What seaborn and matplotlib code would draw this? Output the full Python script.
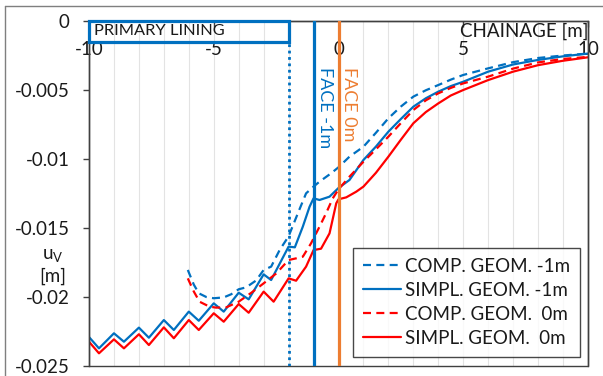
import numpy as np
import pandas as pd
import matplotlib
matplotlib.use("Agg")
import matplotlib.pyplot as plt
import matplotlib.transforms as mtransforms
import seaborn as sns
from matplotlib.patches import Rectangle
from matplotlib.lines import Line2D

# ---------------- data ----------------
x_comp_m1 = [-6.04, -5.8, -5.6, -5.3, -5.0, -4.6, -4.3, -4.0, -3.7, -3.3, -3.0, -2.7, -2.36, -2.0,
             -1.63, -1.3, -1.0, -0.76, -0.3, 0.0, 0.44, 1.0, 1.5, 2.0, 2.5, 3.0, 3.5, 4.0, 4.5,
             5.0, 6.0, 7.0, 8.0, 9.0, 10.0]
y_comp_m1 = [-0.01804, -0.0191, -0.01973, -0.02, -0.02009, -0.02003, -0.0198, -0.01944, -0.0193,
             -0.0188, -0.01804, -0.0178, -0.0166, -0.0156, -0.01394, -0.01249, -0.0120, -0.01164,
             -0.01104, -0.0106, -0.00983, -0.00911, -0.0081, -0.00705, -0.0062, -0.00548,
             -0.00502, -0.00464, -0.00425, -0.00391, -0.00343, -0.00298, -0.00268, -0.0025,
             -0.00236]

x_simpl_m1 = [-10, -9.6, -9.0, -8.6, -8.0, -7.6, -7.0, -6.6, -6.0, -5.6, -5.0, -4.6, -4.0, -3.6,
              -3.0, -2.7, -2.0, -1.75, -1.43, -1.16, -1.0, -0.76, -0.36, 0.0, 0.44, 1.0, 1.5,
              2.0, 2.5, 3.0, 3.5, 4.0, 4.5, 5.0, 6.0, 7.0, 8.0, 9.0, 10.0]
y_simpl_m1 = [-0.0229, -0.02372, -0.02263, -0.02324, -0.02222, -0.02295, -0.02167, -0.02239,
              -0.02106, -0.02172, -0.02046, -0.02106, -0.01969, -0.02017, -0.01836, -0.01877,
              -0.01635, -0.0164, -0.0149, -0.01346, -0.01285, -0.01297, -0.01273, -0.0121,
              -0.01152, -0.01007, -0.0091, -0.00802, -0.0071, -0.00621, -0.0056, -0.00512,
              -0.00472, -0.0044, -0.00367, -0.00315, -0.00282, -0.00256, -0.00236]

x_comp_0 = [-6.04, -5.8, -5.57, -5.17, -4.9, -4.5, -4.0, -3.5, -3.0, -2.5, -2.0, -1.7, -1.43,
            -1.1, -0.76, -0.5, -0.23, 0.0, 0.44, 1.0, 1.5, 2.0, 2.5, 3.0, 3.5, 4.0, 4.5, 5.0,
            6.0, 7.0, 8.0, 9.0, 10.0]
y_comp_0 = [-0.01865, -0.0196, -0.02034, -0.0207, -0.02077, -0.02075, -0.02034, -0.0197,
            -0.01901, -0.0183, -0.01732, -0.0172, -0.01708, -0.01611, -0.0149, -0.01394,
            -0.01285, -0.0122, -0.01128, -0.0102, -0.0093, -0.00838, -0.0074, -0.00645,
            -0.00575, -0.00524, -0.00485, -0.00452, -0.00403, -0.00345, -0.003, -0.00275,
            -0.0026]

x_simpl_0 = [-10, -9.6, -9.0, -8.6, -8.0, -7.6, -7.0, -6.6, -6.0, -5.6, -5.0, -4.6, -4.0, -3.6,
             -3.0, -2.6, -2.0, -1.7, -1.3, -1.0, -0.7, -0.36, -0.09, 0.0, 0.31, 0.71, 1.0, 1.5,
             2.0, 2.5, 3.0, 3.5, 4.0, 4.5, 5.0, 6.0, 7.0, 8.0, 9.0, 10.0]
y_simpl_0 = [-0.02324, -0.02408, -0.02307, -0.02372, -0.0227, -0.02348, -0.0222, -0.02299,
             -0.02167, -0.02239, -0.02118, -0.02179, -0.02051, -0.02114, -0.01961, -0.02034,
             -0.01865, -0.01882, -0.0178, -0.0166, -0.0165, -0.01539, -0.01321, -0.01292,
             -0.01278, -0.01237, -0.012, -0.0110, -0.00983, -0.0086, -0.00741, -0.0066,
             -0.00597, -0.0054, -0.005, -0.00428, -0.00367, -0.0032, -0.00288, -0.00263]

series_labels = ["COMP. GEOM. -1m", "SIMPL. GEOM. -1m", "COMP. GEOM.  0m", "SIMPL. GEOM.  0m"]

x_ticks = [-10, -5, 0, 5, 10]
x_tick_labels = ["-10", "-5", "0", "5", "10"]
y_ticks = [0, -0.005, -0.01, -0.015, -0.02, -0.025]
y_tick_labels = ["0", "-0.005", "-0.01", "-0.015", "-0.02", "-0.025"]

face_m1 = -1.0
face_0 = 0.0
lining_start = -10.0
lining_end = -2.0
lining_depth = -0.0015

# ---------------- style ----------------
BLUE = "#0070C0"
RED = "#FF0000"
ORANGE = "#ED7D31"
TXT = "#1a1a1a"
FS = 13.5

sns.set_theme(style="white")
plt.rcParams['font.family'] = ['Lato', 'DejaVu Sans']
plt.rcParams['mathtext.fontset'] = 'custom'
plt.rcParams['mathtext.rm'] = 'Lato'
plt.rcParams['mathtext.it'] = 'Lato'

fig = plt.figure(figsize=(6.03, 3.76), dpi=100)
fig.patch.set_facecolor("white")
ax = fig.add_axes([89 / 603, 10 / 376, 499 / 603, 345 / 376])

dash = (0, (3.6, 2.4))
specs = [
    (x_comp_m1, y_comp_m1, BLUE, dash),
    (x_simpl_m1, y_simpl_m1, BLUE, "-"),
    (x_comp_0, y_comp_0, RED, dash),
    (x_simpl_0, y_simpl_0, RED, "-"),
]
handles = []
for (xs, ys, col, ls), lab in zip(specs, series_labels):
    df = pd.DataFrame({"x": xs, "y": ys})
    sns.lineplot(data=df, x="x", y="y", ax=ax, color=col, linestyle=ls, linewidth=1.6,
                 sort=False, estimator=None, label=lab, legend=False)
    handles.append(ax.lines[-1])

# face lines and primary lining
ax.axvline(face_m1, color=BLUE, lw=2.3, zorder=4)
ax.axvline(face_0, color=ORANGE, lw=2.3, zorder=4)
ax.axvline(lining_end, color=BLUE, lw=2.0, linestyle=(0, (1, 1.3)), zorder=4)
ax.add_patch(Rectangle((lining_start, lining_depth), lining_end - lining_start, -lining_depth,
                       fill=False, ec=BLUE, lw=2.3, zorder=5, clip_on=False))
ax.text(lining_start + 0.2, lining_depth / 2, "PRIMARY LINING", fontsize=11.8, color=TXT,
        va="center", ha="left", zorder=6)
ax.text(face_m1 + 0.12, -0.0033, "FACE -1m", rotation=270, color=BLUE, fontsize=13,
        va="top", ha="left")
ax.text(face_0 + 0.12, -0.0033, "FACE 0m", rotation=270, color=ORANGE, fontsize=13,
        va="top", ha="left")
ax.text(1.0, -0.00078, "CHAINAGE [m]",
        transform=mtransforms.blended_transform_factory(ax.transAxes, ax.transData),
        ha="right", va="center", fontsize=FS, color=TXT)

# axes
ax.set_xlim(-10, 10)
ax.set_ylim(-0.025, 0)
ax.set_xticks(x_ticks)
ax.set_xticklabels(x_tick_labels)
ax.set_xticks(np.arange(-10, 11, 1), minor=True)
ax.set_yticks(y_ticks)
ax.set_yticklabels(y_tick_labels)
ax.grid(False)
ax.grid(axis="x", which="both", color="#e3e3e3", lw=0.8)
ax.set_axisbelow(True)
ax.set_xlabel("")
ax.set_ylabel("")
ax.text(-0.072, 0.29, "u$_\\mathrm{V}$\n[m]", transform=ax.transAxes, fontsize=FS,
        color=TXT, ha="center", va="center", multialignment="center", linespacing=1.3)

ax.spines["bottom"].set_position(("data", 0))
ax.spines["top"].set_visible(False)
for s in ["bottom", "left", "right"]:
    ax.spines[s].set_color("#404040")
    ax.spines[s].set_linewidth(1.0)
ax.add_patch(Rectangle((0, 0), 1, 1, transform=ax.transAxes, fill=False, ec="#404040",
                       lw=1.0, zorder=3, clip_on=False))

ax.tick_params(axis="x", which="major", bottom=True, direction="out", length=4, width=1,
               color="#404040", labelsize=FS, labelcolor=TXT, pad=10.5)
ax.tick_params(axis="x", which="minor", length=0)
ax.tick_params(axis="y", left=True, direction="out", length=4, width=1, color="#404040",
               labelsize=FS, labelcolor=TXT, pad=10)

leg = ax.legend(handles=handles, labels=series_labels, loc="lower right",
                bbox_to_anchor=(0.984, 0.026), borderaxespad=0, fontsize=FS,
                frameon=True, fancybox=False, handlelength=2.0, handletextpad=0.2,
                labelspacing=0.37, borderpad=0.55)
leg.get_frame().set_edgecolor("#1a1a1a")
leg.get_frame().set_linewidth(1.0)
leg.set_zorder(10)
for t in leg.get_texts():
    t.set_color(TXT)

# outer chart border (partially visible)
fig.add_artist(Line2D([5 / 603, 5 / 603], [0, 1 - 6 / 376], transform=fig.transFigure,
                      color="#7f7f7f", lw=1))
fig.add_artist(Line2D([5 / 603, 1], [1 - 6 / 376, 1 - 6 / 376], transform=fig.transFigure,
                      color="#7f7f7f", lw=1))

fig.savefig("out.png", dpi=100)
